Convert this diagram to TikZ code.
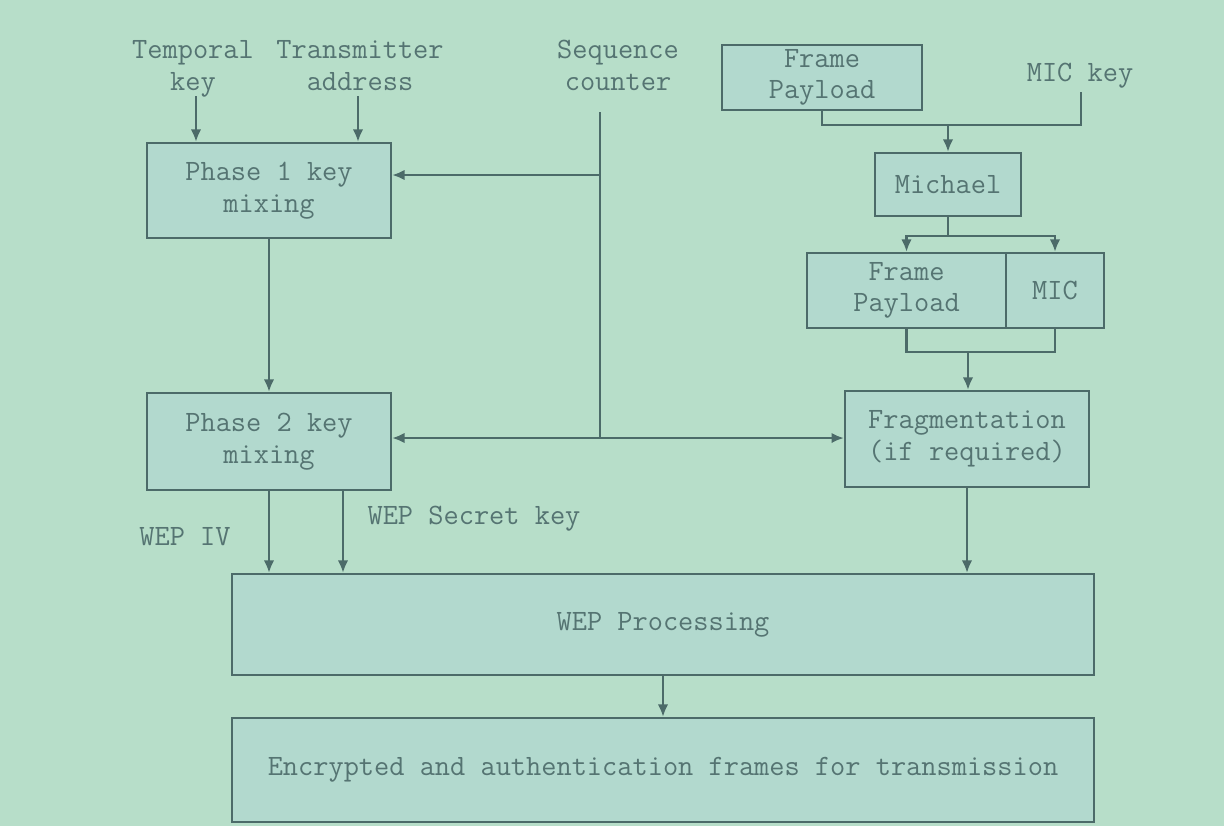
\documentclass[tikz,border=0pt]{standalone}
\usepackage{fontspec}
\usetikzlibrary{arrows.meta,calc}
\definecolor{bgc}{HTML}{B7DEC9}
\definecolor{boxc}{HTML}{B2D9CE}
\definecolor{linec}{HTML}{4C6B69}
\definecolor{textc}{HTML}{557472}
\tikzset{
  diagtext/.style={font=\ttfamily\fontsize{16.8}{18}\selectfont, text=textc, align=center, inner sep=0pt},
  blk/.style={diagtext, draw=linec, fill=boxc, line width=1.4pt},
  conn/.style={draw=linec, line width=1.3pt},
  arr/.style={conn, -{Latex[length=7pt,width=6pt]}}
}
\begin{document}
\begin{tikzpicture}[x=0.02cm,y=-0.02cm]
\fill[bgc] (0,0) rectangle (1224,826);
\useasboundingbox (0,0) rectangle (1224,826);
% labels
\node[diagtext, anchor=north] (tk) at (193,40) {Temporal\\key};
\node[diagtext, anchor=north] (ta) at (360,40) {Transmitter\\address};
\node[diagtext, anchor=north] (sc) at (618,40) {Sequence\\counter};
\node[diagtext] (mk) at (1080,76) {MIC key};
\node[diagtext] (wiv) at (185,537) {WEP IV};
\node[diagtext] (wsk) at (474,519) {WEP Secret key};
% boxes
\node[blk, minimum width=4.88cm, minimum height=1.9cm] (p1) at (269,190.5) {Phase 1 key\\mixing};
\node[blk, minimum width=4.88cm, minimum height=1.94cm] (p2) at (269,441.5) {Phase 2 key\\mixing};
\node[blk, minimum width=4.0cm, minimum height=1.3cm] (fp1) at (822,77.5) {Frame\\Payload};
\node[blk, minimum width=2.92cm, minimum height=1.26cm] (mich) at (948,184.5) {Michael};
\node[blk, minimum width=3.98cm, minimum height=1.5cm] (fp2) at (906.5,290.5) {Frame\\Payload};
\node[blk, minimum width=1.96cm, minimum height=1.5cm] (mic) at (1055,290.5) {MIC};
\node[blk, minimum width=4.88cm, minimum height=1.92cm] (frag) at (967,439) {Fragmentation\\(if required)};
\node[blk, minimum width=17.24cm, minimum height=2.02cm] (wep) at (663,624.5) {WEP Processing};
\node[blk, minimum width=17.24cm, minimum height=2.08cm] (enc) at (663,770) {Encrypted and authentication frames for transmission};
% coordinates
\coordinate (sctop) at (600,112);
\coordinate (s1) at (600,175);
\coordinate (scbot) at (600,438);
\coordinate (mkt) at (1081,92);
\coordinate (mkb) at (1081,125);
\coordinate (sp) at (948,236);
\coordinate (jn) at (968,352);
\coordinate (k2) at ($(p2.south)+(74,0)$);
\coordinate (tka) at (196,96);
\coordinate (taa) at (358,96);
% connectors
\draw[arr] (tka) -- (tka |- p1.north);
\draw[arr] (taa) -- (taa |- p1.north);
\draw[conn] (sctop) -- (scbot);
\draw[arr] (s1) -- (s1 -| p1.east);
\draw[arr] (scbot) -- (scbot -| p2.east);
\draw[arr] (scbot) -- (scbot -| frag.west);
\draw[arr] (p1.south) -- (p2.north);
\draw[conn] (fp1.south) |- (mkb) -- (mkt);
\draw[arr] (mich.north |- mkb) -- (mich.north);
\draw[conn] (mich.south) -- (sp);
\draw[arr] (sp) -| (fp2.north);
\draw[arr] (sp) -| (mic.north);
\draw[conn] (fp2.south) |- (jn) -| (mic.south);
\draw[arr] (jn) -- (jn |- frag.north);
\draw[arr] (frag.south) -- (frag.south |- wep.north);
\draw[arr] (p2.south) -- (p2.south |- wep.north);
\draw[arr] (k2) -- (k2 |- wep.north);
\draw[arr] (wep.south) -- (enc.north);
\end{tikzpicture}
\end{document}
